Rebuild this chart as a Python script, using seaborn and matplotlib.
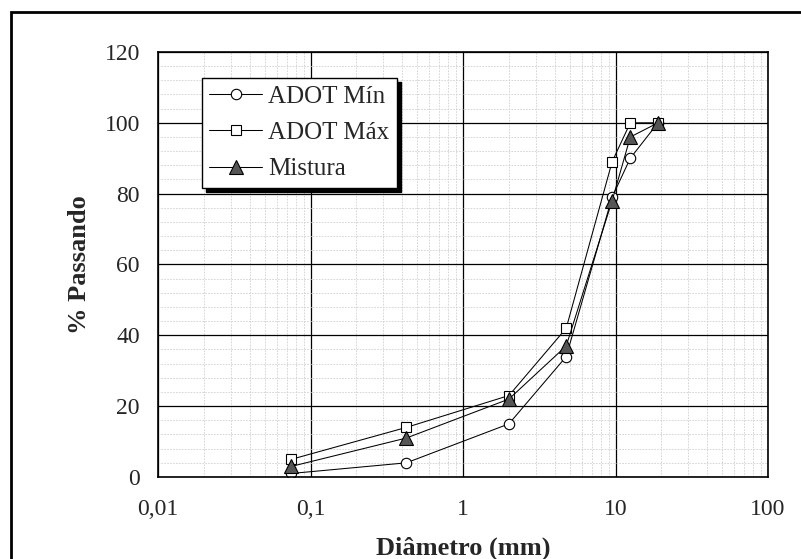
import numpy as np
import pandas as pd
import matplotlib
matplotlib.use('Agg')
import matplotlib.pyplot as plt
import seaborn as sns
from matplotlib.patches import Rectangle
from matplotlib.ticker import FixedLocator, LogLocator, MultipleLocator, NullFormatter

# Sieve sizes (mm) and percent passing
diametro = [0.075, 0.425, 2.0, 4.75, 9.5, 12.5, 19.0]
adot_min = [1, 4, 15, 34, 79, 90, 100]
adot_max = [5, 14, 23, 42, 89, 100, 100]
mistura = [3, 11, 22, 37, 78, 96, 100]

x_ticks = [0.01, 0.1, 1, 10, 100]
x_labels = ['0,01', '0,1', '1', '10', '100']

sns.set_style('white')
plt.rcParams['font.family'] = ['Liberation Serif', 'DejaVu Serif']

fig = plt.figure(figsize=(8.01, 5.59), dpi=100)
ax = fig.add_axes([0.1973, 0.1467, 0.7615, 0.7603])

series = [
    ('ADOT Mín', adot_min, 'o', 'white', 7.5),
    ('ADOT Máx', adot_max, 's', 'white', 7.5),
    ('Mistura', mistura, '^', '#555555', 9.5),
]
for name, vals, mk, fc, ms in series:
    df = pd.DataFrame({'d': diametro, 'p': vals})
    sns.lineplot(data=df, x='d', y='p', ax=ax, color='black', lw=0.75,
                 marker=mk, markerfacecolor=fc, markeredgecolor='black',
                 markersize=ms, markeredgewidth=0.8, label=name)

ax.set_xscale('log')
ax.set_xlim(0.01, 100)
ax.set_ylim(0, 120)
ax.xaxis.set_major_locator(FixedLocator(x_ticks))
ax.set_xticks(x_ticks)
ax.set_xticklabels(x_labels)
ax.xaxis.set_minor_locator(LogLocator(base=10, subs=np.arange(2, 10)))
ax.xaxis.set_minor_formatter(NullFormatter())
ax.yaxis.set_major_locator(MultipleLocator(20))
ax.yaxis.set_minor_locator(MultipleLocator(4))

ax.grid(which='major', color='black', lw=0.9, ls='-')
ax.grid(which='minor', color='#d0d0d0', lw=0.6, ls=(0, (2, 1.5)))
ax.set_axisbelow(True)
ax.tick_params(which='major', direction='out', length=5, width=0.8, labelsize=17,
               color='black')
ax.tick_params(axis='y', which='major', pad=8)
ax.tick_params(axis='x', which='major', pad=11)
ax.tick_params(which='minor', length=0)
for s in ax.spines.values():
    s.set_color('black')
    s.set_linewidth(1.2)

ax.set_xlabel('Diâmetro (mm)', fontsize=19, fontweight='bold', labelpad=12)
ax.set_ylabel('% Passando', fontsize=19, fontweight='bold', labelpad=10)

leg = ax.legend(loc='upper left', bbox_to_anchor=(0.072, 0.939), borderaxespad=0,
                fontsize=18, frameon=True, fancybox=False,
                shadow={'color': 'black', 'alpha': 1, 'ox': 3, 'oy': -3},
                handlelength=2.1, handletextpad=0.25, labelspacing=0.55,
                borderpad=0.3)
leg.get_frame().set_edgecolor('black')
leg.get_frame().set_linewidth(1.0)
leg.get_frame().set_alpha(1)

# outer frame (right and bottom edges fall outside the image)
fig.patches.append(Rectangle((10.5 / 801, -0.1), 1.2, 1.1 - 12 / 559,
                             transform=fig.transFigure, fill=False,
                             edgecolor='black', lw=2))

fig.savefig('out.png', dpi=100)
